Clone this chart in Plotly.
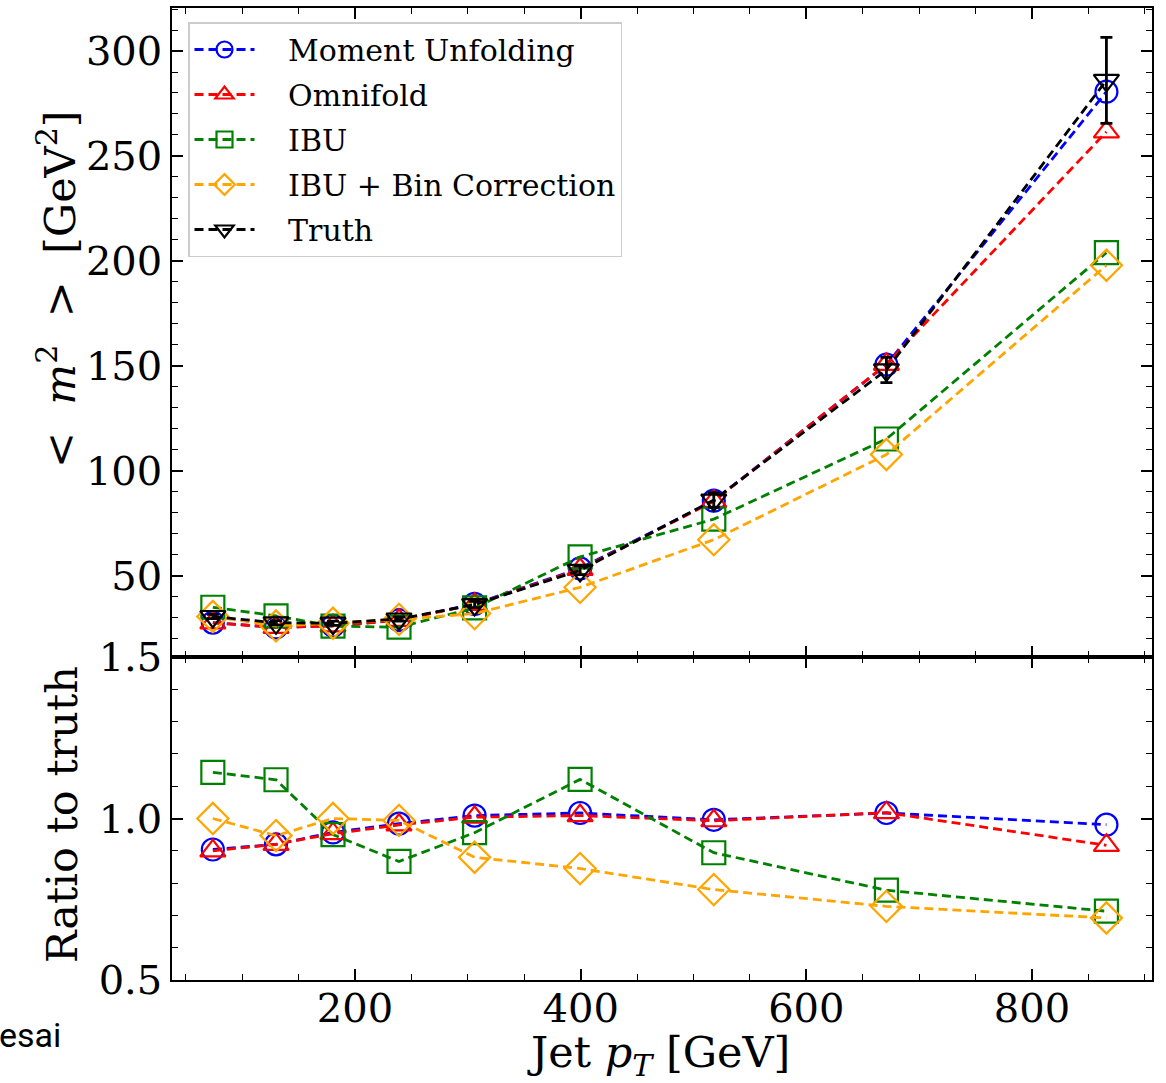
import plotly.graph_objects as go
from plotly.subplots import make_subplots

# ---- data ----
jet_pt = [74, 130, 180.5, 239, 306, 399.5, 518, 671, 866]

truth = [30.5, 27.5, 27.3, 29.3, 36.2, 52.5, 86.0, 148.0, 286.0]
truth_err = [1.0, 1.0, 1.0, 1.0, 1.5, 2.0, 3.5, 6.0, 20.5]
moment_unfolding = [27.6, 25.3, 26.1, 28.8, 36.5, 53.4, 85.7, 150.5, 280.6]
omnifold = [27.5, 25.3, 26.0, 28.7, 36.3, 53.0, 85.4, 150.7, 261.5]
ibu = [34.9, 30.8, 25.9, 25.4, 34.6, 58.9, 76.9, 115.1, 203.9]
ibu_bc = [30.5, 26.0, 27.3, 29.1, 31.9, 44.4, 67.1, 107.7, 197.9]

ratio_mu = [0.904, 0.920, 0.957, 0.984, 1.009, 1.017, 0.996, 1.017, 0.981]
ratio_of = [0.900, 0.920, 0.953, 0.980, 1.004, 1.009, 0.993, 1.018, 0.917]
ratio_ibu = [1.143, 1.120, 0.950, 0.867, 0.956, 1.121, 0.894, 0.778, 0.713]
ratio_ibu_bc = [1.000, 0.947, 1.000, 0.994, 0.880, 0.845, 0.780, 0.728, 0.692]

names = ["Moment Unfolding", "Omnifold", "IBU", "IBU + Bin Correction", "Truth"]
colors = ["blue", "red", "green", "orange", "black"]
symbols = ["circle-open", "triangle-up-open", "square-open", "diamond-open", "triangle-down-open"]
msizes = [22, 22, 23, 24, 22]

SERIF = "DejaVu Serif"
DASH = "9px,5px"
LW = 2.8

fig = make_subplots(rows=2, cols=1, shared_xaxes=True, vertical_spacing=0,
                    row_heights=[649, 323])

top_series = [moment_unfolding, omnifold, ibu, ibu_bc]
ratio_series = [ratio_mu, ratio_of, ratio_ibu, ratio_ibu_bc]
legend_names = ["&nbsp;&nbsp;&nbsp;" + n for n in names]

for i in range(4):
    fig.add_trace(go.Scatter(
        x=jet_pt, y=top_series[i], name=legend_names[i], mode="lines+markers",
        line=dict(color=colors[i], width=LW, dash=DASH),
        marker=dict(symbol=symbols[i], size=msizes[i], color=colors[i],
                    line=dict(width=2.2, color=colors[i])),
        legendgroup=names[i]), row=1, col=1)

fig.add_trace(go.Scatter(
    x=jet_pt, y=truth, name=legend_names[4], mode="lines+markers",
    line=dict(color="black", width=LW, dash=DASH),
    marker=dict(symbol=symbols[4], size=msizes[4], color="black",
                line=dict(width=2.2, color="black")),
    error_y=dict(type="data", array=truth_err, visible=True, color="black",
                 thickness=2.8, width=6),
    legendgroup=names[4]), row=1, col=1)

fig.add_hline(y=1.0, line=dict(color="black", width=3, dash="dot"), row=2, col=1)

for i in range(4):
    fig.add_trace(go.Scatter(
        x=jet_pt, y=ratio_series[i], name=legend_names[i], mode="lines+markers",
        line=dict(color=colors[i], width=LW, dash=DASH),
        marker=dict(symbol=symbols[i], size=msizes[i], color=colors[i],
                    line=dict(width=2.2, color=colors[i])),
        legendgroup=names[i], showlegend=False), row=2, col=1)

axis_common = dict(showline=True, linecolor="black", linewidth=1.5, mirror="allticks",
                   ticks="inside", ticklen=11, tickwidth=1.5, tickcolor="black",
                   showgrid=False, zeroline=False, automargin=False,
                   tickfont=dict(family=SERIF, size=40, color="black"))

fig.update_xaxes(**axis_common, range=[37.8, 906.4], tickvals=[200, 400, 600, 800],
                 ticklabelstandoff=-8,
                 minor=dict(ticks="inside", ticklen=6, tickwidth=1.2, tickcolor="black",
                            dtick=50, tick0=0, showgrid=False))
fig.update_xaxes(showticklabels=False, row=1, col=1)
fig.update_yaxes(**axis_common)
fig.update_yaxes(range=[11.2, 320.5], tickvals=[50, 100, 150, 200, 250, 300],
                 minor=dict(ticks="inside", ticklen=6, tickwidth=1.2, tickcolor="black",
                            dtick=10, tick0=0, showgrid=False), row=1, col=1)
fig.update_yaxes(range=[0.5, 1.5], tickvals=[0.5, 1.0, 1.5], tickformat=".1f",
                 minor=dict(ticks="inside", ticklen=6, tickwidth=1.2, tickcolor="black",
                            dtick=0.1, tick0=0, showgrid=False), row=2, col=1)

# axis titles as annotations (paper coords span the plot area 8..980 px vertically)
W = 980.0
H = 972.0
def px(x):
    return (x - 172) / W
def py(y):
    return (980 - y) / H

annotations = [
    dict(text="Jet <i>p<sub>T</sub></i> [GeV]", x=px(658), y=py(1055), xref="paper", yref="paper",
         showarrow=False, xanchor="center", yanchor="middle",
         font=dict(family=SERIF, size=43, color="black")),
    dict(text="&lt;&nbsp;&nbsp;<i>m</i><sup>2</sup>&nbsp;&nbsp;&gt;&nbsp;&nbsp;[GeV<sup>2</sup>]",
         x=px(57), y=py(289), xref="paper", yref="paper", showarrow=False, textangle=-90,
         xanchor="center", yanchor="middle", font=dict(family=SERIF, size=43, color="black")),
    dict(text="Ratio to truth", x=px(62), y=py(815), xref="paper", yref="paper",
         showarrow=False, textangle=-90, xanchor="center", yanchor="middle",
         font=dict(family=SERIF, size=43, color="black")),
    dict(text="esai", x=px(-3), y=py(1035), xref="paper", yref="paper",
         showarrow=False, xanchor="left", yanchor="middle",
         font=dict(family="Roboto", size=34, color="black")),
]

fig.update_layout(
    width=1166, height=1083,
    margin=dict(l=172, r=14, t=8, b=103),
    paper_bgcolor="white", plot_bgcolor="white",
    annotations=annotations,
    legend=dict(x=px(188), y=py(22), xanchor="left", yanchor="top",
                bgcolor="white", bordercolor="#cccccc", borderwidth=1.5,
                font=dict(family=SERIF, size=30, color="black"),
                itemwidth=60, tracegroupgap=3),
)

fig.write_html("out.html")
